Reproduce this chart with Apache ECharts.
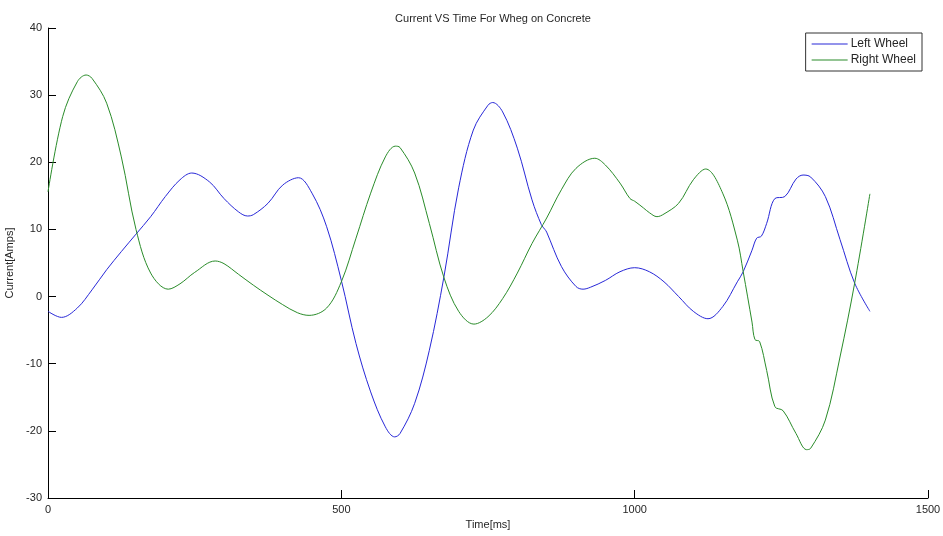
<!DOCTYPE html>
<html>
<head>
<meta charset="utf-8">
<script src="https://cdn.jsdelivr.net/npm/echarts@6/dist/echarts.min.js"></script>
<style>
  html, body { margin: 0; padding: 0; background: #fff; }
  #chart { width: 943px; height: 536px; }
</style>
</head>
<body>
<div id="chart"></div>
<script>
// Left wheel current samples: time [ms] and current [A]
const leftTime = [0, 23, 50, 75, 100, 125, 150, 175, 200, 225, 245, 275, 300, 325, 340, 350, 375, 400, 427, 450, 475, 500, 525, 550, 575, 591, 600, 625, 650, 675, 700, 725, 750, 758, 775, 800, 825, 841, 847, 850, 875, 900, 912, 925, 950, 975, 1000, 1025, 1050, 1075, 1100, 1125, 1150, 1175, 1185, 1200, 1208, 1216, 1225, 1239, 1256, 1275, 1287, 1300, 1325, 1350, 1375, 1401];
const leftCurrent = [-2.2, -3.1, -1.7, 1.0, 4.0, 6.7, 9.3, 11.9, 14.9, 17.4, 18.4, 17.1, 14.6, 12.6, 12.0, 12.2, 13.9, 16.6, 17.7, 15.4, 10.4, 2.4, -7.0, -14.2, -19.4, -20.9, -20.4, -15.9, -8.0, 3.0, 16.2, 24.8, 28.5, 28.9, 27.5, 22.1, 14.4, 10.7, 10.0, 9.6, 4.5, 1.5, 1.1, 1.4, 2.4, 3.7, 4.3, 3.7, 2.2, 0.0, -2.2, -3.3, -1.5, 2.2, 3.7, 6.9, 8.7, 9.0, 10.9, 14.6, 14.9, 17.5, 18.1, 17.8, 14.9, 8.5, 2.0, -2.2];

// Right wheel current samples: time [ms] and current [A]
const rightTime = [0, 25, 50, 65, 75, 100, 125, 150, 175, 205, 225, 250, 285, 300, 325, 350, 375, 400, 425, 445, 475, 500, 525, 550, 575, 592, 600, 625, 650, 675, 700, 726, 750, 775, 800, 825, 850, 875, 900, 932, 950, 975, 992, 1000, 1015, 1025, 1038, 1050, 1075, 1100, 1121, 1150, 1175, 1185, 1200, 1205, 1213, 1225, 1239, 1253, 1275, 1293, 1300, 1325, 1350, 1375, 1401];
const rightCurrent = [15.6, 26.8, 32.0, 33.0, 32.5, 28.8, 20.8, 10.0, 3.5, 1.1, 1.9, 3.6, 5.3, 4.9, 3.3, 1.7, 0.2, -1.2, -2.4, -2.8, -1.7, 2.2, 8.7, 15.4, 20.8, 22.4, 22.2, 18.4, 10.9, 2.8, -2.2, -4.1, -3.0, -0.3, 3.5, 7.9, 11.7, 15.9, 19.1, 20.6, 19.6, 16.9, 14.6, 14.2, 13.2, 12.5, 11.9, 12.3, 13.9, 17.4, 19.0, 15.4, 8.4, 3.7, -3.8, -6.4, -6.7, -11.0, -16.4, -17.0, -20.4, -22.8, -22.6, -18.4, -9.0, 2.0, 15.3];

// Axis ranges and ticks
const xTicks = [0, 500, 1000, 1500];
const yTicks = [-30, -20, -10, 0, 10, 20, 30, 40];

const pairs = (ts, vs) => ts.map((t, i) => [t, vs[i]]);

const FONT = '"Liberation Sans", Arial, sans-serif';
const TEXT = '#262626';
const BLUE = '#2828d8';
const GREEN = '#2a8c2a';

const chart = echarts.init(document.getElementById('chart'), null, { renderer: 'canvas' });

chart.setOption({
  animation: false,
  backgroundColor: '#ffffff',
  title: {
    text: 'Current VS Time For Wheg on Concrete',
    left: 488,
    top: 8,
    textAlign: 'center',
    textStyle: { fontFamily: FONT, fontSize: 11, fontWeight: 'normal', color: TEXT }
  },
  legend: {
    orient: 'vertical',
    right: 21,
    top: 33,
    width: 115,
    padding: [5, 6, 5, 6],
    itemGap: 4,
    itemWidth: 36,
    itemHeight: 14,
    borderColor: '#333333',
    borderWidth: 1,
    backgroundColor: '#ffffff',
    textStyle: { fontFamily: FONT, fontSize: 12, color: TEXT, padding: [0, 0, 0, -2] },
    data: [
      { name: 'Left Wheel', icon: 'path://M0,0 L36,0 L36,1 L0,1 Z', itemStyle: { color: BLUE } },
      { name: 'Right Wheel', icon: 'path://M0,0 L36,0 L36,1 L0,1 Z', itemStyle: { color: GREEN } }
    ]
  },
  grid: { left: 48, right: 15, top: 28, bottom: 38, containLabel: false, outerBoundsMode: 'none' },
  xAxis: {
    type: 'value',
    min: xTicks[0],
    max: xTicks[xTicks.length - 1],
    interval: 500,
    name: 'Time[ms]',
    nameLocation: 'middle',
    nameGap: 20,
    nameTextStyle: { fontFamily: FONT, fontSize: 11, color: TEXT },
    axisLine: { show: true, onZero: false, lineStyle: { color: '#000', width: 1 } },
    axisTick: { show: true, inside: true, length: 8, lineStyle: { color: '#000' } },
    axisLabel: { fontFamily: FONT, fontSize: 11, color: TEXT, margin: 6, formatter: v => String(v) },
    splitLine: { show: false }
  },
  yAxis: {
    type: 'value',
    min: yTicks[0],
    max: yTicks[yTicks.length - 1],
    interval: 10,
    name: 'Current[Amps]',
    nameLocation: 'middle',
    nameGap: 25,
    nameRotate: 90,
    nameTextStyle: { fontFamily: FONT, fontSize: 11, color: TEXT },
    axisLine: { show: true, onZero: false, lineStyle: { color: '#000', width: 1 } },
    axisTick: { show: true, inside: true, length: 8, lineStyle: { color: '#000' } },
    axisLabel: { fontFamily: FONT, fontSize: 11, color: TEXT, margin: 6, formatter: v => String(v) },
    splitLine: { show: false }
  },
  series: [
    {
      name: 'Left Wheel',
      type: 'line',
      data: pairs(leftTime, leftCurrent),
      symbol: 'none',
      smooth: 0.35,
      lineStyle: { color: BLUE, width: 1 },
      itemStyle: { color: BLUE }
    },
    {
      name: 'Right Wheel',
      type: 'line',
      data: pairs(rightTime, rightCurrent),
      symbol: 'none',
      smooth: 0.35,
      lineStyle: { color: GREEN, width: 1 },
      itemStyle: { color: GREEN }
    }
  ]
});
</script>
</body>
</html>
